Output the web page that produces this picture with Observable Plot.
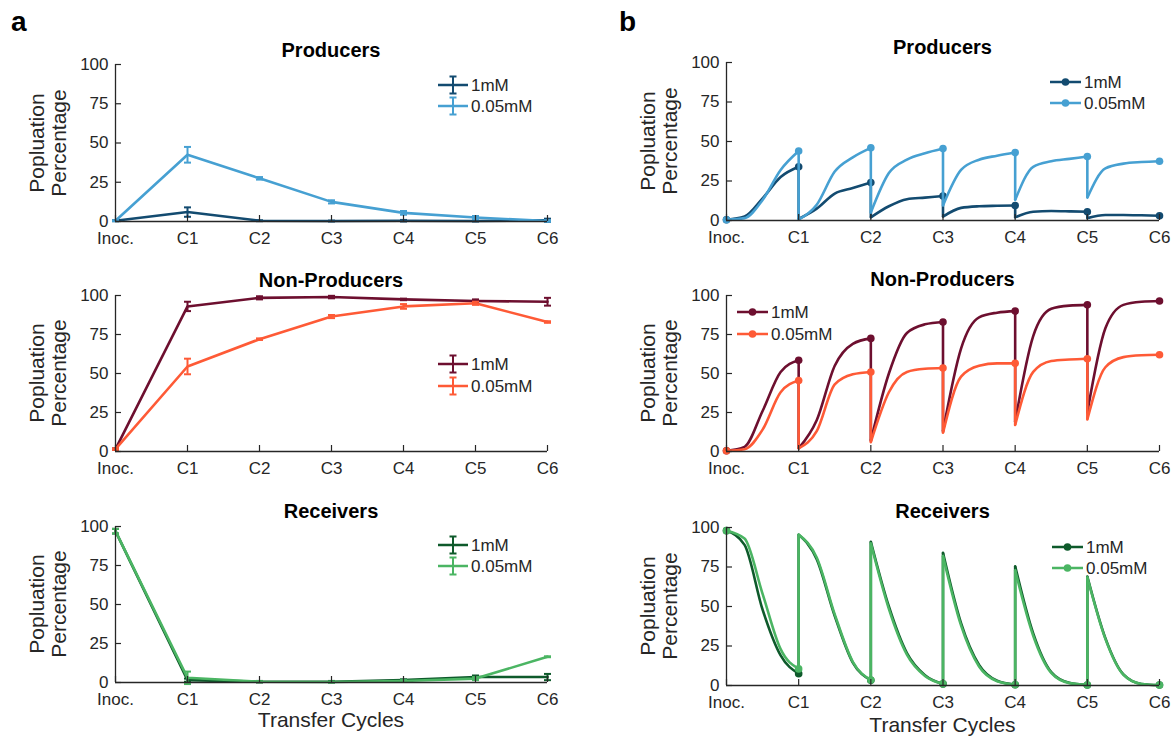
<!DOCTYPE html>
<html><head><meta charset="utf-8">
<script src="https://cdn.jsdelivr.net/npm/d3@7"></script>
<script src="https://cdn.jsdelivr.net/npm/@observablehq/plot@0.6"></script>
<style>
body{margin:0;background:#fff;}
#root{position:relative;width:1173px;height:737px;overflow:hidden;background:#fff;font-family:"Liberation Sans",Arial,Helvetica,sans-serif;color:#262626;}
.abs{position:absolute;}
.title{font-weight:bold;font-size:20px;color:#000;transform:translate(-50%,-50%);white-space:nowrap;}
.ylab{font-size:21px;line-height:22px;transform:translate(-50%,-50%) rotate(-90deg);white-space:nowrap;text-align:center;}
.xlab{font-size:21px;line-height:22px;transform:translate(-50%,-50%);white-space:nowrap;}
.plabel{font-weight:bold;font-size:28px;color:#000;}
.leg{font-size:17px;display:flex;align-items:center;height:21px;transform:translateY(-50%);white-space:nowrap;}
.leg svg{margin-right:3px;}
</style></head><body><div id="root"></div>
<script>
// ---------------- data ----------------
const cycles = ["Inoc.", "C1", "C2", "C3", "C4", "C5", "C6"];
const yTicks = [0, 25, 50, 75, 100];
const concentrations = ["1mM", "0.05mM"];
const populations = ["Producers", "Non-Producers", "Receivers"];

// panel a (measured, mean and error)
const aProd1mM    = [0.5, 6, 0.5, 0.3, 0.5, 0.3, 0.8];
const aProd1mMErr = [0.3, 3, 0.3, 0.3, 0.5, 0.3, 1];
const aProd005    = [0.5, 42.5, 27.5, 12.5, 5.5, 2.5, 0.3];
const aProd005Err = [0.3, 5, 0.8, 1, 1.2, 1, 0.5];
const aNP1mM      = [1.5, 93, 98.5, 99, 97.5, 96.5, 96];
const aNP1mMErr   = [0.5, 3, 1, 0.8, 0.5, 1, 2.5];
const aNP005      = [1.5, 54.5, 72, 86.5, 93, 95, 83];
const aNP005Err   = [0.5, 5, 0.5, 1, 1.5, 1, 0.5];
const aRec1mM     = [97, 1.5, 0.5, 0.5, 1.5, 3.5, 3.5];
const aRec1mMErr  = [1.5, 1, 0.5, 0.5, 0.5, 1, 2];
const aRec005     = [97, 3, 0.5, 0.3, 1, 2.5, 16.5];
const aRec005Err  = [1.5, 4, 0.3, 0.3, 0.5, 1, 0.3];

// panel b (simulated): per transfer cycle, readings at 0, 1/4, 1/2, 3/4 and end of the cycle
const bProd1mM = [[0.5, 2.5, 14, 27.5, 34], [1, 7.5, 17, 20.5, 24], [2, 9, 13.5, 14.5, 15.5], [2.5, 8, 9, 9.3, 9.5], [2, 5.5, 6, 5.8, 5.5], [1.5, 3.5, 3.5, 3.3, 3]];
const bProd005 = [[0.5, 1.5, 13, 32, 44], [0.5, 10, 31, 40, 46], [5, 30, 38.5, 42.5, 45.5], [9.5, 32, 38.5, 41, 43], [13, 34, 37.5, 39, 40.5], [14.5, 33, 36, 37, 37.5]];
const bNP1mM   = [[0.5, 3, 26, 51, 58.5], [2, 20, 55, 69, 72.5], [7, 50, 76, 81.5, 83], [13, 66, 86, 89, 90], [19, 74, 91.5, 93.5, 94], [25, 79, 94, 96, 96.5]];
const bNP005   = [[0.5, 1.5, 14, 38, 45.5], [2, 13, 43, 49.5, 51], [6, 38, 51, 53, 53.5], [12, 48, 55, 56.5, 56.5], [17, 51, 58, 59, 59.5], [20.5, 54, 60.5, 61.7, 62]];
const bRec1mM  = [[98, 89, 48, 19, 7.5], [95.5, 80, 44, 14.5, 3.3], [91, 50, 20.5, 6.5, 1], [84, 39.5, 13, 3, 0.5], [75.5, 33, 8.5, 1.7, 0.3], [69, 30, 7, 1, 0.3]];
const bRec005  = [[98, 93, 58, 23, 10.5], [95.5, 81, 45, 15, 3.5], [90, 48.5, 19.5, 6, 1], [82, 38, 12, 2.7, 0.5], [73, 31.5, 8, 1.5, 0.3], [68.5, 29.5, 6.8, 1, 0.3]];

// ---------------- styles ----------------
const col1mM = ["#134b70", "#6d0f2f", "#0e5a2b"];
const col005 = ["#46a0d2", "#fe5a36", "#4bb563"];
const axisColor = "#262626";
const root = document.getElementById("root");

function add(html, cls, x, y) {
  const d = document.createElement("div");
  d.className = "abs " + cls;
  d.style.left = x + "px"; d.style.top = y + "px";
  d.innerHTML = html;
  root.appendChild(d);
  return d;
}

const cap = {draw(ctx, size) { const r = Math.sqrt(size / Math.PI); ctx.moveTo(-r, 0); ctx.lineTo(r, 0); }};

function buildPanel(cfg) {
  const mt = 12, mb = 45;
  const h = cfg.y0 - cfg.y100;
  const W = cfg.width;
  const svg = Plot.plot({
    width: W,
    height: mt + h + mb,
    marginLeft: cfg.xL - cfg.left,
    marginRight: W - (cfg.xR - cfg.left),
    marginTop: mt,
    marginBottom: mb,
    x: {domain: [0, 6]},
    y: {domain: [0, 100]},
    style: {fontFamily: '"Liberation Sans", Arial, Helvetica, sans-serif', fontSize: "17px", color: axisColor, background: "transparent", overflow: "visible"},
    marks: [
      ...cfg.marks,
      Plot.ruleX([0], {stroke: axisColor, strokeWidth: 1.3}),
      Plot.ruleY([0], {stroke: axisColor, strokeWidth: 1.3}),
      Plot.axisX(d3.range(cycles.length), {tickSize: 6, dy: -6, fill: "none", stroke: axisColor, strokeWidth: 1.2, label: null}),
      Plot.axisX(d3.range(cycles.length), {tickSize: 0, tickPadding: 10, tickFormat: i => cycles[i], label: null}),
      Plot.axisY(yTicks, {tickSize: 6, dx: 6, fill: "none", stroke: axisColor, strokeWidth: 1.2, label: null}),
      Plot.axisY(yTicks, {tickSize: 0, tickPadding: 7, label: null})
    ]
  });
  svg.style.position = "absolute";
  svg.style.left = cfg.left + "px";
  svg.style.top = (cfg.y100 - mt) + "px";
  root.appendChild(svg);
  // title + y label
  add(cfg.title, "title", (cfg.xL + cfg.xR) / 2, cfg.titleY);
  add("Popluation<br>Percentage", "ylab", cfg.xL - 67, (cfg.y100 + cfg.y0) / 2);
  if (cfg.xlabel) add("Transfer Cycles", "xlab", (cfg.xL + cfg.xR) / 2, cfg.xlabelY);
}

function aMarks(v1, e1, v2, e2, c1, c2) {
  const rows = (v, e) => v.map((y, i) => ({x: i, y, lo: y - e[i], hi: y + e[i]}));
  const out = [];
  [[rows(v1, e1), c1], [rows(v2, e2), c2]].forEach(([r, c]) => {
    out.push(Plot.line(r, {x: "x", y: "y", stroke: c, strokeWidth: 2.6}));
    out.push(Plot.ruleX(r, {x: "x", y1: "lo", y2: "hi", stroke: c, strokeWidth: 2}));
    out.push(Plot.dot(r, {x: "x", y: "lo", symbol: cap, r: 3.5, fill: "none", stroke: c, strokeWidth: 2}));
    out.push(Plot.dot(r, {x: "x", y: "hi", symbol: cap, r: 3.5, fill: "none", stroke: c, strokeWidth: 2}));
  });
  return out;
}

function bMarks(s1, s2, c1, c2) {
  const out = [];
  [[s1, c1], [s2, c2]].forEach(([s, c]) => {
    const pts = [];
    s.forEach((cyc, k) => cyc.forEach((y, j) => pts.push({x: k + j / (cyc.length - 1), y, k})));
    const jumps = s.slice(1).map((cyc, k) => ({x: k + 1, y1: s[k][s[k].length - 1], y2: cyc[0]}));
    const ends = [{x: 0, y: s[0][0]}, ...s.map((cyc, k) => ({x: k + 1, y: cyc[cyc.length - 1]}))];
    out.push(Plot.line(pts, {x: "x", y: "y", z: "k", stroke: c, strokeWidth: 2.6, curve: "monotone-x"}));
    out.push(Plot.link(jumps, {x1: "x", x2: "x", y1: "y1", y2: "y2", stroke: c, strokeWidth: 2.6}));
    out.push(Plot.dot(ends, {x: "x", y: "y", r: 3.8, fill: c}));
  });
  return out;
}

function legendA(x, y1, y2, c1, c2) {
  [[y1, c1, concentrations[0]], [y2, c2, concentrations[1]]].forEach(([y, c, t]) => {
    add(`<svg width="30" height="21"><line x1="0" y1="10.5" x2="30" y2="10.5" stroke="${c}" stroke-width="2.4"/><line x1="15" y1="2" x2="15" y2="19" stroke="${c}" stroke-width="2"/><line x1="11.5" y1="2" x2="18.5" y2="2" stroke="${c}" stroke-width="2"/><line x1="11.5" y1="19" x2="18.5" y2="19" stroke="${c}" stroke-width="2"/></svg>${t}`, "leg", x, y);
  });
}
function legendB(x, y1, y2, c1, c2) {
  [[y1, c1, concentrations[0]], [y2, c2, concentrations[1]]].forEach(([y, c, t]) => {
    add(`<svg width="31" height="21"><line x1="0" y1="10.5" x2="31" y2="10.5" stroke="${c}" stroke-width="2.6"/><circle cx="15.5" cy="10.5" r="3.8" fill="${c}"/></svg>${t}`, "leg", x, y);
  });
}

// panel letters
add("a", "plabel", 11, 6);
add("b", "plabel", 619, 6);

const A = {left: 0, width: 590, xL: 115, xR: 547};
const B = {left: 590, width: 583, xL: 726, xR: 1159};

// Panel a
buildPanel({...A, y100: 64, y0: 221, title: populations[0], titleY: 50,
  marks: aMarks(aProd1mM, aProd1mMErr, aProd005, aProd005Err, col1mM[0], col005[0])});
buildPanel({...A, y100: 295, y0: 451, title: populations[1], titleY: 280,
  marks: aMarks(aNP1mM, aNP1mMErr, aNP005, aNP005Err, col1mM[1], col005[1])});
buildPanel({...A, y100: 526, y0: 682, title: populations[2], titleY: 511, xlabel: true, xlabelY: 720,
  marks: aMarks(aRec1mM, aRec1mMErr, aRec005, aRec005Err, col1mM[2], col005[2])});
legendA(438, 85, 106, col1mM[0], col005[0]);
legendA(438, 364, 386, col1mM[1], col005[1]);
legendA(438, 545, 566, col1mM[2], col005[2]);

// Panel b
buildPanel({...B, y100: 62, y0: 220, title: populations[0], titleY: 47,
  marks: bMarks(bProd1mM, bProd005, col1mM[0], col005[0])});
buildPanel({...B, y100: 295, y0: 451, title: populations[1], titleY: 279,
  marks: bMarks(bNP1mM, bNP005, col1mM[1], col005[1])});
buildPanel({...B, y100: 527, y0: 685, title: populations[2], titleY: 511, xlabel: true, xlabelY: 725,
  marks: bMarks(bRec1mM, bRec005, col1mM[2], col005[2])});
legendB(1050, 82, 103, col1mM[0], col005[0]);
legendB(737, 312, 334, col1mM[1], col005[1]);
legendB(1052, 547, 568, col1mM[2], col005[2]);
</script></body></html>
